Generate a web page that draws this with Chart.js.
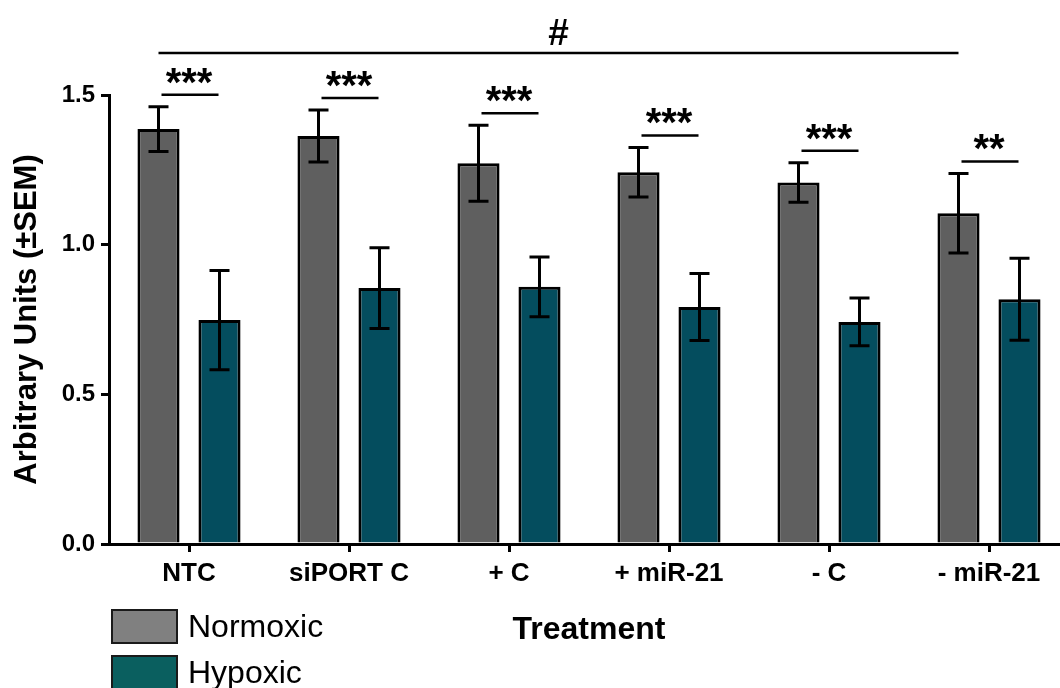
<!DOCTYPE html>
<html>
<head>
<meta charset="utf-8">
<script src="https://cdn.jsdelivr.net/npm/chart.js@4"></script>
<style>
  html, body { margin: 0; padding: 0; background: #fff; overflow: hidden; }
  #wrap { width: 1080px; height: 688px; }
</style>
</head>
<body>
<div id="wrap"><canvas id="chart" width="1080" height="688"></canvas></div>
<script>
const treatments = ["NTC", "siPORT C", "+ C", "+ miR-21", "- C", "- miR-21"];
const normoxic = [1.386, 1.363, 1.272, 1.242, 1.208, 1.105];
const normoxicSem = [0.075, 0.087, 0.127, 0.083, 0.066, 0.133];
const hypoxic = [0.748, 0.855, 0.859, 0.792, 0.742, 0.818];
const hypoxicSem = [0.166, 0.135, 0.100, 0.112, 0.080, 0.137];
const pairStars = ["***", "***", "***", "***", "***", "**"];
const overallMark = "#";
const yTicks = [0, 0.5, 1.0, 1.5];

const FONT = "'Liberation Sans', Arial, sans-serif";
const palette = {
  ink: "#000000",
  normoxic: "#5f5f5f",
  hypoxic: "#044d5e",
  normoxicKey: "#808080",
  hypoxicKey: "#0a5f5f",
};

// whiskers: mean ± SEM for every bar
const errorBars = {
  id: "errorBars",
  afterDatasetsDraw(chart) {
    const { ctx } = chart;
    const y = chart.scales.y;
    const sems = [normoxicSem, hypoxicSem];
    ctx.save();
    ctx.strokeStyle = palette.ink;
    ctx.lineWidth = 3;
    chart.data.datasets.forEach((ds, d) => {
      chart.getDatasetMeta(d).data.forEach((bar, i) => {
        const top = y.getPixelForValue(ds.data[i] + sems[d][i]);
        const bottom = y.getPixelForValue(ds.data[i] - sems[d][i]);
        ctx.beginPath();
        ctx.moveTo(bar.x, top);
        ctx.lineTo(bar.x, bottom);
        ctx.moveTo(bar.x - 10, top);
        ctx.lineTo(bar.x + 10, top);
        ctx.moveTo(bar.x - 10, bottom);
        ctx.lineTo(bar.x + 10, bottom);
        ctx.stroke();
      });
    });
    ctx.restore();
  },
};

// significance brackets over each pair plus the overall comparison
const significance = {
  id: "significance",
  afterDraw(chart) {
    const { ctx, chartArea } = chart;
    const y = chart.scales.y;
    const norm = chart.getDatasetMeta(0).data;
    const hyp = chart.getDatasetMeta(1).data;
    ctx.save();
    ctx.strokeStyle = palette.ink;
    ctx.fillStyle = palette.ink;
    ctx.lineWidth = 2.5;
    ctx.textAlign = "center";
    ctx.textBaseline = "alphabetic";
    ctx.font = `bold 40px ${FONT}`;
    norm.forEach((bar, i) => {
      const top = Math.min(
        y.getPixelForValue(normoxic[i] + normoxicSem[i]),
        y.getPixelForValue(hypoxic[i] + hypoxicSem[i])
      );
      const lineY = top - 12;
      ctx.beginPath();
      ctx.moveTo(bar.x + 3, lineY);
      ctx.lineTo(hyp[i].x - 1, lineY);
      ctx.stroke();
      ctx.fillText(pairStars[i], (bar.x + hyp[i].x) / 2, lineY + 1);
    });

    const hashY = chartArea.top - 42;
    const x0 = norm[0].x;
    const x1 = norm[norm.length - 1].x;
    ctx.beginPath();
    ctx.moveTo(x0, hashY);
    ctx.lineTo(x1, hashY);
    ctx.stroke();
    ctx.font = `bold 37px ${FONT}`;
    ctx.fillText(overallMark, (x0 + x1) / 2, hashY - 8);
    ctx.restore();
  },
};

// stacked key in the lower left corner
const stackedKey = {
  id: "stackedKey",
  afterDraw(chart) {
    const { ctx, chartArea } = chart;
    const fills = [palette.normoxicKey, palette.hypoxicKey];
    ctx.save();
    ctx.font = `32px ${FONT}`;
    ctx.textAlign = "left";
    ctx.textBaseline = "middle";
    chart.data.datasets.forEach((ds, d) => {
      const left = chartArea.left + 3;
      const top = chartArea.bottom + 66 + d * 46;
      ctx.fillStyle = fills[d];
      ctx.fillRect(left, top, 65, 33);
      ctx.strokeStyle = "#1a1a1a";
      ctx.lineWidth = 2;
      ctx.strokeRect(left, top, 65, 33);
      ctx.fillStyle = palette.ink;
      ctx.fillText(ds.label, left + 76, top + 18);
    });
    ctx.restore();
  },
};

new Chart(document.getElementById("chart"), {
  type: "bar",
  data: {
    labels: treatments,
    datasets: [
      {
        label: "Normoxic",
        data: normoxic,
        backgroundColor: palette.normoxic,
        borderColor: palette.ink,
        borderWidth: 3,
      },
      {
        label: "Hypoxic",
        data: hypoxic,
        backgroundColor: palette.hypoxic,
        borderColor: palette.ink,
        borderWidth: 3,
      },
    ],
  },
  options: {
    responsive: false,
    animation: false,
    devicePixelRatio: 1,
    categoryPercentage: 0.7625,
    barPercentage: 0.69,
    layout: { padding: { top: 95, right: 11, bottom: 0, left: 0 } },
    plugins: {
      legend: { display: false },
      tooltip: { enabled: false },
    },
    scales: {
      x: {
        afterFit(scale) { scale.height = 144; },
        grid: {
          display: true,
          drawOnChartArea: false,
          offset: false,
          drawTicks: true,
          tickLength: 8,
          color: palette.ink,
          lineWidth: 3,
        },
        border: { display: true, color: palette.ink, width: 3 },
        ticks: {
          color: palette.ink,
          padding: 6,
          maxRotation: 0,
          font: { family: FONT, size: 26, weight: "bold" },
        },
        title: {
          display: true,
          text: "Treatment",
          color: palette.ink,
          padding: { top: 0, bottom: 39 },
          font: { family: FONT, size: 32, weight: "bold" },
        },
      },
      y: {
        min: 0,
        max: 1.5,
        afterFit(scale) { scale.width = 109; },
        afterBuildTicks(scale) { scale.ticks = yTicks.map((v) => ({ value: v })); },
        grid: {
          display: true,
          drawOnChartArea: false,
          drawTicks: true,
          tickLength: 8,
          color: palette.ink,
          lineWidth: 3,
        },
        border: { display: true, color: palette.ink, width: 3 },
        ticks: {
          color: palette.ink,
          padding: 6,
          callback: (v) => Number(v).toFixed(1),
          font: { family: FONT, size: 24, weight: "bold" },
        },
        title: {
          display: true,
          text: "Arbitrary Units (±SEM)",
          color: palette.ink,
          padding: { top: 9, bottom: 0 },
          font: { family: FONT, size: 31, weight: "bold" },
        },
      },
    },
  },
  plugins: [errorBars, significance, stackedKey],
});
</script>
</body>
</html>
